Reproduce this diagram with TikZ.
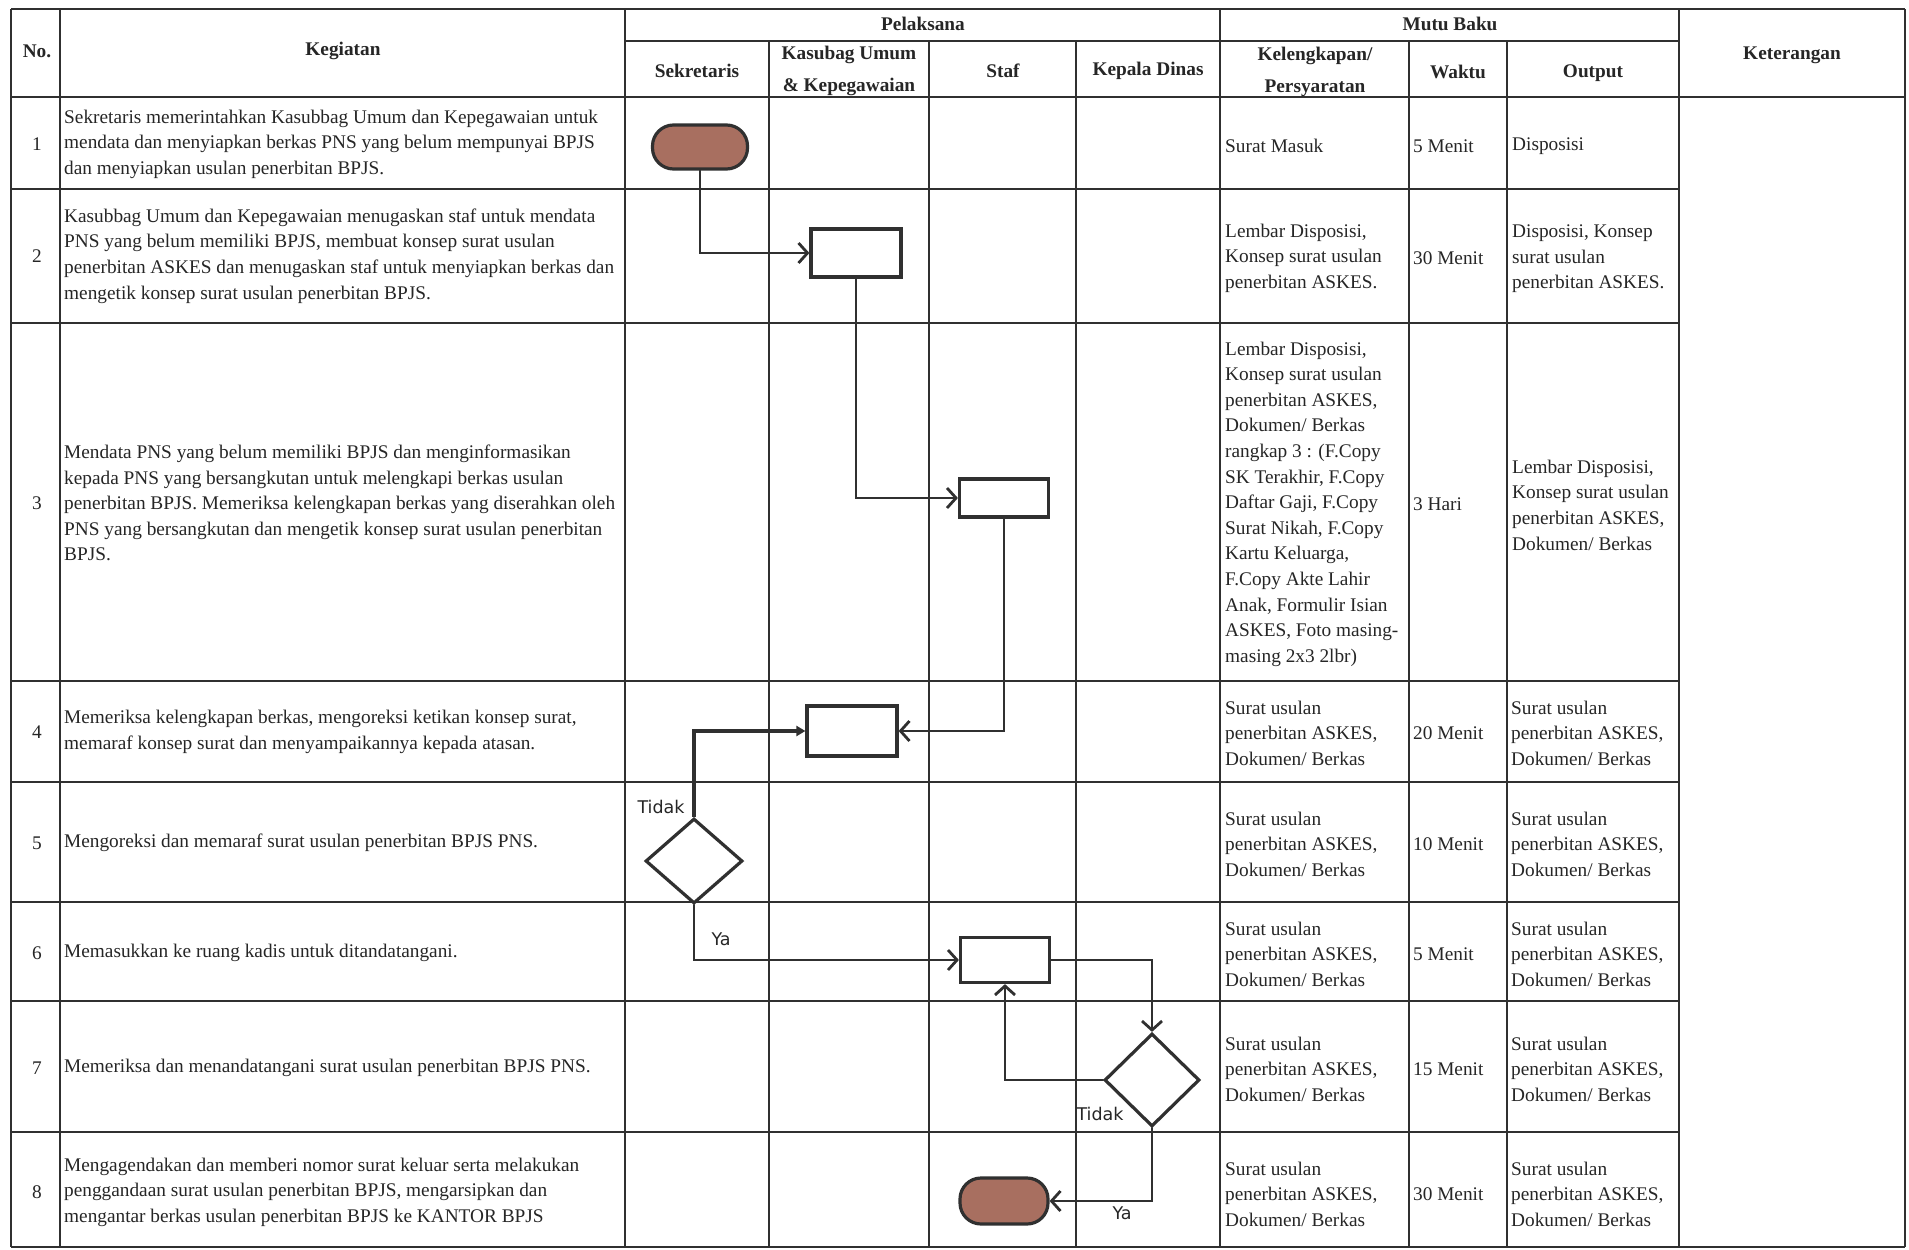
\documentclass[tikz,border=0pt]{standalone}
\usepackage{fontspec}
\setmainfont{Liberation Serif}
\newfontfamily\lblfont{DejaVu Sans}
\usetikzlibrary{shapes.geometric,arrows.meta}
\definecolor{linec}{HTML}{303030}
\definecolor{termfill}{HTML}{A86F60}
\newcommand{\bodyfont}{\fontsize{19.3}{25.6}\selectfont}
\newcommand{\hdrfont}{\fontsize{19.3}{31.5}\selectfont\bfseries}
\tikzset{
  tbl/.style={draw=linec, line width=2.3pt},
  cell/.style={anchor=west, align=left, inner sep=0pt, font=\bodyfont, text=black!85},
  num/.style={inner sep=0pt, font=\bodyfont, text=black!85},
  hdr/.style={inner sep=0pt, align=center, font=\hdrfont, text=black!85},
  procbox/.style={draw=linec, line width=3.2pt, fill=white, inner sep=0pt},
  term/.style={draw=linec, line width=3.2pt, fill=termfill, rounded corners=21pt, inner sep=0pt},
  decision/.style={diamond, draw=linec, line width=3.2pt, fill=white, inner sep=0pt},
  conn/.style={draw=linec, line width=2.8pt, line cap=round, -{Straight Barb[length=9pt,width=20pt]}},
  connfill/.style={draw=linec, line width=3.2pt, -{Triangle[length=9pt,width=10pt]}},
  lbl/.style={inner sep=0pt, font=\lblfont\fontsize{17.5}{20}\selectfont, text=black!85}
}
\begin{document}
\begin{tikzpicture}[x=1pt,y=-1pt]
\useasboundingbox[fill=white] (0,0) rectangle (1909,1250);

% ---------- table grid ----------
\draw[tbl] (11,9) -- (1905,9);
\draw[tbl] (625,41) -- (1679,41);
\draw[tbl] (11,97) -- (1905,97);
\foreach \yy in {189,323,681,782,902,1001,1132}
  \draw[tbl] (11,\yy) -- (1679,\yy);
\draw[tbl] (11,1247) -- (1905,1247);
\foreach \xx in {11,60,625,1220,1679,1905}
  \draw[tbl] (\xx,9) -- (\xx,1247);
\foreach \xx in {769,929,1076,1409,1507}
  \draw[tbl] (\xx,41) -- (\xx,1247);

% ---------- headers ----------
\node[hdr] (hno) at (37,51) {No.};
\node[hdr] (hkeg) at (343,51) {Kegiatan};
\node[hdr] (hpel) at (923,24) {Pelaksana};
\node[hdr] (hmutu) at (1450,24) {Mutu Baku};
\node[hdr] (hsek) at (697,71) {Sekretaris};
\node[hdr] (hkas) at (849,71) {Kasubag Umum\\\& Kepegawaian};
\node[hdr] (hstaf) at (1003,71) {Staf};
\node[hdr] (hkadis) at (1148,71) {Kepala Dinas};
\node[hdr] (hkel) at (1315,72) {Kelengkapan/\\Persyaratan};
\node[hdr] (hwaktu) at (1458,72) {Waktu};
\node[hdr] (hout) at (1593,73) {Output};
\node[hdr] (hket) at (1792,55) {Keterangan};

% ---------- numbers ----------
\node[num] (n1) at (37,144) {1};
\node[num] (n2) at (37,256) {2};
\node[num] (n3) at (37,503) {3};
\node[num] (n4) at (37,732) {4};
\node[num] (n5) at (37,843) {5};
\node[num] (n6) at (37,953) {6};
\node[num] (n7) at (37,1068) {7};
\node[num] (n8) at (37,1192) {8};

% ---------- kegiatan ----------
\node[cell] (k1) at (64,144) {Sekretaris memerintahkan Kasubbag Umum dan Kepegawaian untuk\\mendata dan menyiapkan berkas PNS yang belum mempunyai BPJS\\dan menyiapkan usulan penerbitan BPJS.};
\node[cell] (k2) at (64,256) {Kasubbag Umum dan Kepegawaian menugaskan staf untuk mendata\\PNS yang belum memiliki BPJS, membuat konsep surat usulan\\penerbitan ASKES dan menugaskan staf untuk menyiapkan berkas dan\\mengetik konsep surat usulan penerbitan BPJS.};
\node[cell] (k3) at (64,503) {Mendata PNS yang belum memiliki BPJS dan menginformasikan\\kepada PNS yang bersangkutan untuk melengkapi berkas usulan\\penerbitan BPJS. Memeriksa kelengkapan berkas yang diserahkan oleh\\PNS yang bersangkutan dan mengetik konsep surat usulan penerbitan\\BPJS.};
\node[cell] (k4) at (64,732) {Memeriksa kelengkapan berkas, mengoreksi ketikan konsep surat,\\memaraf konsep surat dan menyampaikannya kepada atasan.};
\node[cell] (k5) at (64,843) {Mengoreksi dan memaraf surat usulan penerbitan BPJS PNS.};
\node[cell] (k6) at (64,953) {Memasukkan ke ruang kadis untuk ditandatangani.};
\node[cell] (k7) at (64,1068) {Memeriksa dan menandatangani surat usulan penerbitan BPJS PNS.};
\node[cell] (k8) at (64,1192) {Mengagendakan dan memberi nomor surat keluar serta melakukan\\penggandaan surat usulan penerbitan BPJS, mengarsipkan dan\\mengantar berkas usulan penerbitan BPJS ke KANTOR BPJS};

% ---------- mutu baku ----------
\node[cell] (p1) at (1225,146) {Surat Masuk};
\node[cell] (w1) at (1413,146) {5 Menit};
\node[cell] (o1) at (1512,146) {Disposisi};

\node[cell] (p2) at (1225,258) {Lembar Disposisi,\\Konsep surat usulan\\penerbitan ASKES.};
\node[cell] (w2) at (1413,258) {30 Menit};
\node[cell] (o2) at (1512,259) {Disposisi, Konsep\\surat usulan\\penerbitan ASKES.};

\node[cell] (p3) at (1225,504) {Lembar Disposisi,\\Konsep surat usulan\\penerbitan ASKES,\\Dokumen/ Berkas\\rangkap 3 : (F.Copy\\SK Terakhir, F.Copy\\Daftar Gaji, F.Copy\\Surat Nikah, F.Copy\\Kartu Keluarga,\\F.Copy Akte Lahir\\Anak, Formulir Isian\\ASKES, Foto masing-\\masing 2x3 2lbr)};
\node[cell] (w3) at (1413,504) {3 Hari};
\node[cell] (o3) at (1512,505) {Lembar Disposisi,\\Konsep surat usulan\\penerbitan ASKES,\\Dokumen/ Berkas};

\node[cell] (p4) at (1225,733) {Surat usulan\\penerbitan ASKES,\\Dokumen/ Berkas};
\node[cell] (w4) at (1413,733) {20 Menit};
\node[cell] (o4) at (1511,733) {Surat usulan\\penerbitan ASKES,\\Dokumen/ Berkas};

\node[cell] (p5) at (1225,844) {Surat usulan\\penerbitan ASKES,\\Dokumen/ Berkas};
\node[cell] (w5) at (1413,844) {10 Menit};
\node[cell] (o5) at (1511,844) {Surat usulan\\penerbitan ASKES,\\Dokumen/ Berkas};

\node[cell] (p6) at (1225,954) {Surat usulan\\penerbitan ASKES,\\Dokumen/ Berkas};
\node[cell] (w6) at (1413,954) {5 Menit};
\node[cell] (o6) at (1511,954) {Surat usulan\\penerbitan ASKES,\\Dokumen/ Berkas};

\node[cell] (p7) at (1225,1069) {Surat usulan\\penerbitan ASKES,\\Dokumen/ Berkas};
\node[cell] (w7) at (1413,1069) {15 Menit};
\node[cell] (o7) at (1511,1069) {Surat usulan\\penerbitan ASKES,\\Dokumen/ Berkas};

\node[cell] (p8) at (1225,1194) {Surat usulan\\penerbitan ASKES,\\Dokumen/ Berkas};
\node[cell] (w8) at (1413,1194) {30 Menit};
\node[cell] (o8) at (1511,1194) {Surat usulan\\penerbitan ASKES,\\Dokumen/ Berkas};

% ---------- flowchart shapes ----------
\node[term, minimum width=95pt, minimum height=44pt] (start) at (700,147) {};
\node[procbox, minimum width=90pt, minimum height=48pt] (b2) at (856,253) {};
\node[procbox, minimum width=89pt, minimum height=38pt] (b3) at (1004,498) {};
\node[procbox, minimum width=90pt, minimum height=50pt] (b4) at (852,731) {};
\node[decision, minimum width=97pt, minimum height=85pt] (d5) at (694,861) {};
\node[procbox, minimum width=89pt, minimum height=45pt] (b6) at (1005,960) {};
\node[decision, minimum width=95pt, minimum height=93pt] (d7) at (1152,1080) {};
\node[term, minimum width=88pt, minimum height=46pt] (stop) at (1004,1201) {};

% ---------- connectors ----------
\draw[conn] (start.south) |- (b2.west);
\draw[conn] (b2.south) |- (b3.west);
\draw[conn] (b3.south) |- (b4.east);
\draw[connfill] (d5.north) |- (b4.west);
\draw[conn] (d5.south) |- (b6.west);
\draw[conn] (b6.east) -| (d7.north);
\draw[conn] (d7.west) -| (b6.south);
\draw[conn] (d7.south) |- (stop.east);

% ---------- branch labels ----------
\node[lbl] (tidak1) at (661,807) {Tidak};
\node[lbl] (ya1) at (721,939) {Ya};
\node[lbl] (tidak2) at (1100,1114) {Tidak};
\node[lbl] (ya2) at (1122,1213) {Ya};
\end{tikzpicture}
\end{document}
